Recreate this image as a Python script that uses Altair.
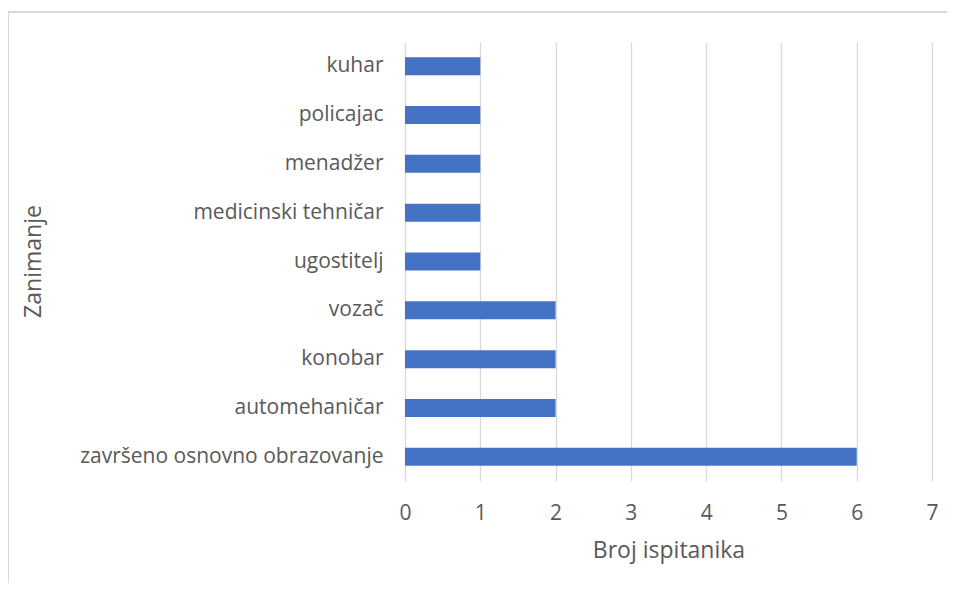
import altair as alt
import pandas as pd

categories = ["kuhar", "policajac", "menadžer", "medicinski tehničar", "ugostitelj",
              "vozač", "konobar", "automehaničar", "završeno osnovno obrazovanje"]
values = [1, 1, 1, 1, 1, 2, 2, 2, 6]

df = pd.DataFrame({"Zanimanje": categories, "Broj": values})

FONT = "Open Sans"
GREY = "#595959"

bars = alt.Chart(df).mark_bar(color="#4472C4").encode(
    y=alt.Y("Zanimanje:N", sort=categories,
            scale=alt.Scale(paddingInner=0.63, paddingOuter=0.31),
            axis=alt.Axis(title="Zanimanje", domain=False, ticks=False, labelPadding=22,
                          labelFontSize=21, labelColor=GREY, labelFont=FONT,
                          titleFontSize=23, titleColor=GREY, titleFont=FONT,
                          titleFontWeight="normal", titleX=-372, titleY=219,
                          titleAngle=-90, titleBaseline="middle", labelLimit=400)),
    x=alt.X("Broj:Q", scale=alt.Scale(domain=[0, 7], nice=False),
            axis=alt.Axis(title="Broj ispitanika", values=list(range(8)), domain=False,
                          ticks=False, grid=True, gridColor="#d9d9d9", gridWidth=1.3,
                          labelFlush=False,
                          labelPadding=21, labelFontSize=21, labelColor=GREY, labelFont=FONT,
                          titleFontSize=23, titleColor=GREY, titleFont=FONT,
                          titleFontWeight="normal", titlePadding=16)),
)

border = alt.Chart(df).mark_rule(color="#d9d9d9", strokeWidth=1.5).encode(
    x=alt.value(-397), x2=alt.value(560), y=alt.value(-30)
)
border_left = alt.Chart(df).mark_rule(color="#d9d9d9", strokeWidth=1.5).encode(
    x=alt.value(-397), y=alt.value(-30), y2=alt.value(560)
)

chart = alt.layer(bars, border, border_left).properties(
    width=527, height=439,
    autosize=alt.AutoSizeParams(type="none"),
    padding={"left": 397, "top": 34, "right": 15, "bottom": 102},
    background="white",
).configure_view(stroke=None)

chart.save("out.html", embed_options={"renderer": "svg", "actions": False})
